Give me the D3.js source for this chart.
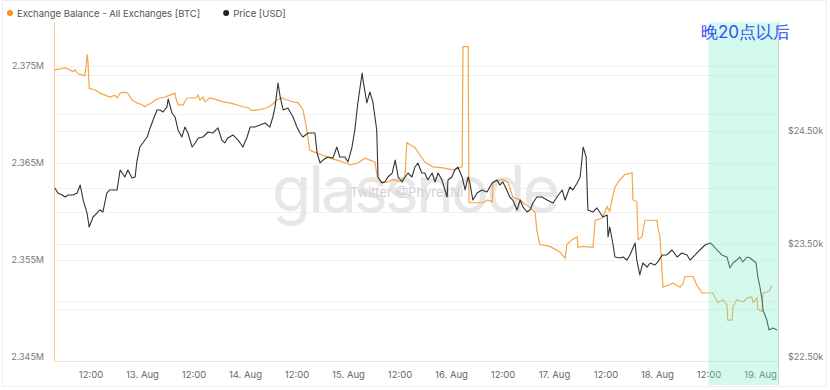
<!DOCTYPE html>
<html>
<head>
<meta charset="utf-8">
<script src="https://cdn.jsdelivr.net/npm/d3@7"></script>
<style>
  body { margin: 0; background: #fff; }
  svg text { font-family: Inter, "Noto Sans", sans-serif; }
</style>
</head>
<body>
<div class="chart-content"></div>
<script>
// hours after 12 Aug 2022 00:00 UTC, value in millions of BTC
let balanceSeries = [
  [3.7,2.3746],[4.9,2.3747],[6.1,2.3748],[7.2,2.3746],[7.9,2.3744],[8.4,2.3746],[9.1,2.3742],[10.7,2.3740],[11.0,2.3750],[11.2,2.3762],
  [11.4,2.3756],[11.7,2.3727],[13.3,2.3725],[14.2,2.3722],[15.4,2.3720],[16.5,2.3718],[17.7,2.3720],[18.2,2.3717],[18.9,2.3722],[20.0,2.3723],
  [20.7,2.3722],[21.7,2.3715],[22.8,2.3712],[24.0,2.3710],[24.7,2.3708],[25.4,2.3710],[26.3,2.3712],[27.0,2.3715],[28.2,2.3717],[29.4,2.3718],
  [30.5,2.3720],[31.7,2.3722],[31.9,2.3717],[32.4,2.3710],[33.6,2.3710],[34.5,2.3717],[36.6,2.3717],[37.1,2.3720],[37.5,2.3715],[38.2,2.3718],
  [38.7,2.3713],[39.8,2.3717],[41.5,2.3715],[42.9,2.3713],[44.5,2.3712],[46.1,2.3710],[47.5,2.3708],[48.7,2.3707],[49.6,2.3704],[51.5,2.3705],
  [53.1,2.3707],[54.3,2.3710],[55.5,2.3715],[56.6,2.3717],[57.8,2.3715],[59.2,2.3713],[60.4,2.3712],[61.5,2.3705],[62.0,2.3694],[62.4,2.3684],
  [63.1,2.3663],[64.3,2.3661],[66.2,2.3658],[67.8,2.3655],[69.4,2.3653],[70.8,2.3651],[72.5,2.3648],[74.3,2.3650],[76.0,2.3655],[77.1,2.3653],
  [78.3,2.3651],[78.8,2.3636],[79.5,2.3631],[81.1,2.3630],[82.5,2.3633],[84.1,2.3631],[85.3,2.3636],[85.7,2.3671],[86.4,2.3669],[87.6,2.3666],
  [88.8,2.3658],[89.9,2.3651],[91.8,2.3646],[94.1,2.3645],[96.5,2.3643],[97.6,2.3645],[98.6,2.3646],[98.8,2.3770],[100.0,2.3770],[100.2,2.3609],
  [103.5,2.3609],[104.6,2.3612],[105.6,2.3610],[105.8,2.3630],[108.1,2.3633],[109.3,2.3630],[110.4,2.3615],[112.1,2.3612],[112.8,2.3609],[114.4,2.3604],
  [115.6,2.3599],[116.0,2.3581],[116.7,2.3566],[119.1,2.3564],[121.4,2.3558],[122.6,2.3552],[123.0,2.3566],[124.2,2.3571],[125.4,2.3574],[125.6,2.3563],
  [126.8,2.3564],[129.1,2.3563],[129.6,2.3591],[131.2,2.3593],[132.4,2.3605],[133.0,2.3600],[133.5,2.3612],[134.2,2.3625],[135.4,2.3633],[136.5,2.3638],
  [138.2,2.3640],[138.4,2.3612],[139.3,2.3610],[139.6,2.3571],[140.5,2.3574],[141.2,2.3591],[144.0,2.3591],[144.2,2.3584],[144.7,2.3574],[145.4,2.3522],
  [146.6,2.3524],[147.7,2.3526],[149.4,2.3522],[150.1,2.3526],[150.5,2.3533],[152.4,2.3533],[153.3,2.3524],[154.5,2.3516],[157.0,2.3516],[158.2,2.3506],
  [159.4,2.3509],[160.3,2.3504],[160.5,2.3488],[161.5,2.3488],[161.7,2.3502],[162.6,2.3509],[164.0,2.3507],[165.2,2.3511],[166.1,2.3512],[166.4,2.3506],
  [167.3,2.3511],[167.5,2.3499],[168.5,2.3497],[168.7,2.3516],[169.6,2.3517],[170.3,2.3519],[170.8,2.3524]
];

// hours after 12 Aug 2022 00:00 UTC, price in USD
let priceSeries = [
  [3.7,23995],[4.4,23951],[5.4,23934],[6.1,23916],[6.8,23934],[7.9,23934],[8.9,23951],[9.6,24022],[10.3,23889],[11.2,23774],
  [11.7,23650],[12.6,23739],[13.5,23774],[14.2,23801],[14.9,23783],[15.8,23951],[16.5,23978],[18.2,23978],[18.9,24155],[20.0,24093],
  [20.7,24155],[21.7,24084],[22.4,24093],[22.8,24226],[23.5,24358],[24.2,24394],[25.2,24447],[25.9,24527],[26.6,24597],[27.5,24686],
  [28.2,24686],[28.9,24668],[29.8,24712],[30.1,24783],[31.0,24659],[31.7,24624],[32.4,24509],[33.3,24447],[34.0,24535],[34.7,24482],
  [35.7,24358],[36.4,24394],[37.1,24438],[38.2,24447],[39.4,24491],[40.5,24482],[41.7,24527],[42.6,24420],[43.3,24394],[44.0,24438],
  [45.2,24465],[46.4,24420],[47.5,24358],[48.5,24447],[49.2,24535],[50.3,24535],[51.5,24553],[52.7,24571],[53.8,24535],[54.5,24624],
  [55.0,24712],[55.7,24925],[56.2,24801],[56.9,24686],[58.0,24704],[59.2,24624],[60.1,24535],[60.8,24482],[61.5,24447],[62.7,24482],
  [64.3,24482],[64.8,24305],[65.5,24217],[66.2,24243],[67.3,24270],[68.5,24261],[69.4,24358],[70.1,24270],[71.3,24270],[72.0,24226],
  [72.9,24350],[73.6,24509],[74.3,24748],[75.3,25013],[75.5,24951],[76.4,24748],[77.1,24845],[77.8,24757],[78.7,24509],[79.0,24093],
  [79.9,24040],[80.6,24049],[81.3,24093],[82.3,24128],[83.0,24243],[83.7,24093],[84.6,24049],[85.3,24093],[86.0,24128],[86.9,24093],
  [87.6,24181],[88.3,24217],[89.2,24128],[89.9,24128],[90.6,24066],[91.6,24128],[92.3,24049],[93.0,24128],[93.9,24066],[95.1,23916],
  [95.3,24066],[96.2,24093],[96.9,24155],[97.6,24181],[98.6,24093],[99.3,23978],[100.0,24093],[100.4,24040],[101.1,23889],[102.1,23951],
  [103.2,23978],[104.4,23960],[105.6,24040],[106.7,24066],[107.4,24022],[108.1,24049],[109.0,23978],[109.7,23916],[110.4,23889],[111.4,23801],
  [112.1,23889],[112.8,23827],[113.7,23783],[114.4,23801],[115.1,23863],[116.0,23916],[117.2,23916],[118.4,23889],[119.8,23863],[120.7,23916],
  [121.9,23978],[122.6,23889],[123.7,24004],[124.4,23978],[125.4,24040],[126.1,24093],[126.5,24243],[126.8,24358],[127.5,24270],[127.9,23801],
  [129.1,23783],[130.0,23819],[131.4,23739],[132.4,23757],[132.6,23562],[133.0,23650],[133.7,23509],[134.2,23385],[135.4,23376],[136.1,23385],
  [137.0,23358],[137.7,23403],[138.9,23509],[139.3,23358],[140.0,23226],[140.7,23332],[141.7,23296],[142.4,23332],[143.5,23314],[144.2,23341],
  [145.2,23403],[146.3,23403],[147.5,23447],[148.7,23385],[149.8,23420],[151.0,23403],[151.7,23358],[152.9,23403],[154.0,23447],[155.2,23491],
  [156.4,23509],[157.0,23491],[158.0,23447],[159.1,23403],[160.3,23385],[161.0,23288],[161.7,23332],[162.6,23358],[163.3,23385],[164.0,23341],
  [165.0,23385],[165.7,23376],[167.1,23332],[167.5,23208],[168.0,23119],[168.5,23004],[168.7,22916],[169.6,22827],[170.1,22739],[171.0,22757],
  [172.0,22739]
];

let balanceTicks = [2.345, 2.35, 2.355, 2.36, 2.365, 2.37, 2.375];
let balanceLabels = [2.345, 2.355, 2.365, 2.375];
let priceTicks = [22500, 23000, 23500, 24000, 24500, 25000];
let priceLabels = [22500, 23500, 24500];
let timeStart = 3.5;     // hours, left edge
let timeEnd = 172.2;     // hours, right edge
let highlightFrom = 156; // 18 Aug 12:00 UTC = 20:00 Beijing
let legendItems = [
  {name: 'Exchange Balance - All Exchanges [BTC]', color: '#f7931a'},
  {name: 'Price [USD]', color: '#222'}
];
let noteText = '晚20点以后';

let base = Date.UTC(2022, 7, 12);
let toDate = function(hr) { return new Date(base + hr * 3600e3); };

let w = 830;
let h = 390;
let m = {left: 54, right: 778, top: 22, bottom: 361};

let svg = d3.select('.chart-content')
  .append('svg')
  .attr('width', w)
  .attr('height', h);

// outer frame of the screenshot
svg.append('rect')
  .attr('x', 2.5).attr('y', 0.5)
  .attr('width', 824).attr('height', 386)
  .attr('fill', 'none')
  .attr('stroke', '#eeeeee');

let x = d3.scaleUtc().domain([toDate(timeStart), toDate(timeEnd)]).range([m.left, m.right]);
let yL = d3.scaleLinear().domain([2.345, 2.375]).range([357, 66]);
let yR = d3.scaleLinear().domain([22500, 24500]).range([357, 131]);

// grid lines for both axes
svg.append('g').selectAll('line')
  .data(balanceTicks.slice(1))
  .enter().append('line')
  .attr('x1', m.left).attr('x2', m.right)
  .attr('y1', function(d) { return Math.round(yL(d)) + 0.5; })
  .attr('y2', function(d) { return Math.round(yL(d)) + 0.5; })
  .attr('stroke', '#f1f1f1');
svg.append('g').selectAll('line')
  .data(priceTicks.slice(1))
  .enter().append('line')
  .attr('x1', m.left).attr('x2', m.right)
  .attr('y1', function(d) { return Math.round(yR(d)) + 0.5; })
  .attr('y2', function(d) { return Math.round(yR(d)) + 0.5; })
  .attr('stroke', '#f1f1f1');

// watermark
svg.append('text')
  .attr('x', 272).attr('y', 212)
  .attr('font-family', 'Lato, sans-serif')
  .attr('font-size', 64)
  .attr('textLength', 288)
  .attr('fill', '#e7e7e7')
  .text('glassnode');
svg.append('text')
  .attr('x', 350).attr('y', 197)
  .attr('font-size', 13)
  .attr('fill', '#d2d2d2')
  .text('Twitter @PhyrexNi');

// axes
let xAxis = d3.axisBottom(x)
  .ticks(d3.utcHour.every(12))
  .tickSize(0)
  .tickPadding(10)
  .tickFormat(function(d) {
    return d.getUTCHours() === 0 ? d3.utcFormat('%-d. %b')(d) : d3.utcFormat('%H:%M')(d);
  });
let gx = svg.append('g').attr('transform', 'translate(0,' + m.bottom + ')').call(xAxis);
gx.select('.domain').attr('stroke', '#f3e3cf');
gx.selectAll('text').attr('fill', '#666').attr('font-size', 9.5);

let yAxisL = d3.axisLeft(yL)
  .tickValues(balanceLabels)
  .tickSize(0)
  .tickPadding(10)
  .tickFormat(function(d) { return d3.format('.3f')(d) + 'M'; });
let gl = svg.append('g').attr('transform', 'translate(' + m.left + ',0)').call(yAxisL);
gl.select('.domain').remove();
gl.selectAll('text').attr('fill', '#777').attr('font-size', 9);

let yAxisR = d3.axisRight(yR)
  .tickValues(priceLabels)
  .tickSize(0)
  .tickPadding(10)
  .tickFormat(function(d) { return '$' + d3.format('.2f')(d / 1000) + 'k'; });
let gr = svg.append('g').attr('transform', 'translate(' + m.right + ',0)').call(yAxisR);
gr.select('.domain').remove();
gr.selectAll('text').attr('fill', '#777').attr('font-size', 9);

// left axis line (orange)
svg.append('line')
  .attr('x1', m.left + 0.5).attr('x2', m.left + 0.5)
  .attr('y1', m.top).attr('y2', m.bottom)
  .attr('stroke', '#fbc98d');

// series
svg.append('clipPath').attr('id', 'plot-clip')
  .append('rect').attr('x', m.left).attr('y', m.top).attr('width', m.right - m.left).attr('height', m.bottom - m.top);

let balanceLine = d3.line()
  .x(function(d) { return x(toDate(d[0])); })
  .y(function(d) { return yL(d[1]); });
let priceLine = d3.line()
  .x(function(d) { return x(toDate(d[0])); })
  .y(function(d) { return yR(d[1]); });

svg.append('path')
  .datum(balanceSeries)
  .attr('clip-path', 'url(#plot-clip)')
  .attr('d', balanceLine)
  .attr('fill', 'none')
  .attr('stroke', '#f7a547')
  .attr('stroke-width', 1.2);

svg.append('path')
  .datum(priceSeries)
  .attr('clip-path', 'url(#plot-clip)')
  .attr('d', priceLine)
  .attr('fill', 'none')
  .attr('stroke', '#333')
  .attr('stroke-width', 1.1)
  .attr('stroke-linejoin', 'round');

// highlighted window (semi transparent overlay)
let hx = x(toDate(highlightFrom));
svg.append('rect')
  .attr('x', hx)
  .attr('y', m.top)
  .attr('width', m.right - hx)
  .attr('height', 385 - m.top)
  .attr('fill', 'rgb(120,240,200)')
  .attr('fill-opacity', 0.33);
svg.append('line')
  .attr('x1', m.right + 0.5).attr('x2', m.right + 0.5)
  .attr('y1', m.top).attr('y2', 385)
  .attr('stroke', '#cfd8d4');

svg.append('text')
  .attr('x', 701).attr('y', 38)
  .attr('font-family', '"Noto Sans CJK SC", sans-serif')
  .attr('font-size', 17)
  .attr('fill', '#3550f5')
  .text(noteText);

// legend
let lg = svg.append('g').attr('transform', 'translate(10,13)');
let lx = 0;
legendItems.forEach(function(item) {
  lg.append('circle').attr('cx', lx).attr('cy', 0).attr('r', 3).attr('fill', item.color);
  let t = lg.append('text')
    .attr('x', lx + 7).attr('y', 3.5)
    .attr('font-size', 9.5)
    .attr('fill', '#555')
    .text(item.name);
  lx += 7 + t.node().getComputedTextLength() + 26;
});
</script>
</body>
</html>
